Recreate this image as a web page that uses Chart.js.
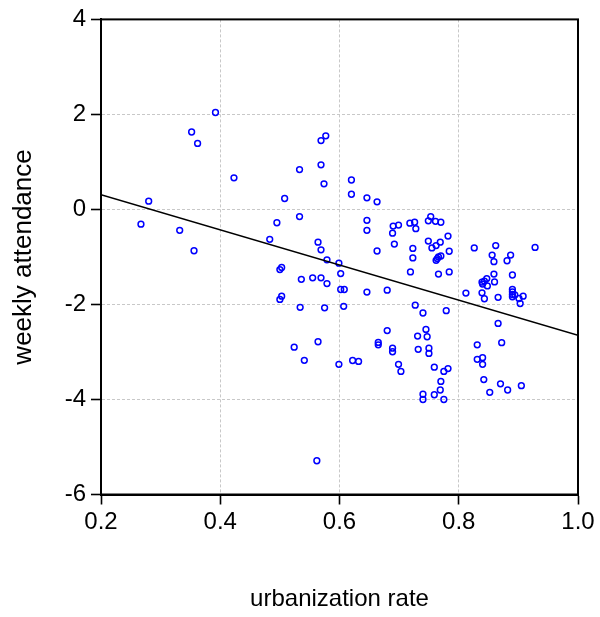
<!DOCTYPE html>
<html>
<head>
<meta charset="utf-8">
<title>weekly attendance vs urbanization rate</title>
<script src="https://cdn.jsdelivr.net/npm/chart.js@4.4.1/dist/chart.umd.min.js"></script>
<style>
  html, body { margin: 0; padding: 0; background: #ffffff; }
  #wrap { width: 600px; height: 617px; }
</style>
</head>
<body>
<div id="wrap"><canvas id="chart" width="600" height="617"></canvas></div>
<script>
// Urbanization rate of each observation
const urbanization = [
  0.392, 0.352, 0.362, 0.423, 0.280, 0.267, 0.332, 0.356, 0.533, 0.508,
  0.495, 0.533, 0.483, 0.564, 0.569, 0.579, 0.569, 0.577, 0.569, 0.574,
  0.620, 0.620, 0.646, 0.663, 0.646, 0.646, 0.690, 0.699, 0.689, 0.692,
  0.663, 0.718, 0.726, 0.728, 0.723, 0.723, 0.749, 0.753, 0.761, 0.770,
  0.782, 0.749, 0.769, 0.755, 0.762, 0.784, 0.826, 0.862, 0.856, 0.887,
  0.928, 0.762, 0.764, 0.766, 0.770, 0.599, 0.602, 0.602, 0.608, 0.607,
  0.599, 0.622, 0.632, 0.646, 0.680, 0.719, 0.766, 0.784, 0.727, 0.740,
  0.779, 0.680, 0.665, 0.665, 0.689, 0.689, 0.731, 0.745, 0.747, 0.732,
  0.750, 0.750, 0.699, 0.703, 0.759, 0.775, 0.782, 0.770, 0.769, 0.759,
  0.775, 0.740, 0.740, 0.812, 0.839, 0.843, 0.866, 0.839, 0.840, 0.843,
  0.847, 0.848, 0.859, 0.860, 0.859, 0.881, 0.890, 0.890, 0.890, 0.890,
  0.890, 0.894, 0.901, 0.908, 0.903, 0.866, 0.872, 0.831, 0.831, 0.840,
  0.840, 0.842, 0.852, 0.870, 0.882, 0.905, 0.500, 0.503, 0.536, 0.555,
  0.569, 0.579, 0.500, 0.503, 0.534, 0.575, 0.524, 0.564, 0.541, 0.562
];

// Weekly attendance of each observation
const attendance = [
   2.04,  1.63,  1.39,  0.665, 0.175, -0.31, -0.44, -0.87,  0.84,  0.23,
  -0.28, -0.15, -0.63, -0.69, -0.85, -1.06,  1.45,  1.55,  0.94,  0.54,
   0.62,  0.32,  0.245, 0.16, -0.23, -0.44, -0.35, -0.33, -0.50, -0.73,
  -0.875, -0.29, -0.27, -0.405, -0.82, -1.02, -0.24, -0.15, -0.25, -0.27,
  -0.56, -0.665, -0.69, -0.81, -0.76, -0.88, -0.81, -0.76, -0.96, -0.96,
  -0.80, -1.07, -1.035, -1.00, -0.98, -1.13, -1.35, -1.685, -1.685, -2.04,
  -3.26, -3.18, -3.20, -1.74, -1.70, -1.315, -1.36, -1.315, -2.015, -2.18,
  -2.13, -2.55, -2.80, -2.85, -2.92, -2.995, -2.665, -2.525, -2.68, -2.945,
  -2.92, -3.03, -3.26, -3.41, -3.32, -3.41, -3.35, -3.62, -3.80, -3.90,
  -4.00, -3.89, -4.00, -1.76, -1.755, -1.88, -1.85, -1.53, -1.57, -1.51,
  -1.455, -1.61, -1.36, -1.525, -1.10, -1.08, -1.38, -1.685, -1.735, -1.79,
  -1.84, -1.80, -1.875, -1.826, -1.98, -2.40, -2.805, -2.85, -3.155, -3.12,
  -3.26, -3.58, -3.85, -3.67, -3.80, -3.71, -1.265, -1.22, -1.47, -1.44,
  -1.44, -1.56, -1.895, -1.826, -2.06, -2.07, -2.90, -2.785, -3.175, -5.29
];

// Fitted regression line, end points at the edges of the x range
const fitX = [0.2, 1.0];
const fitY = [0.31, -2.65];

// Axis ticks
const xTicks = [0.2, 0.4, 0.6, 0.8, 1.0];
const yTicks = [-6, -4, -2, 0, 2, 4];

const FONT = '"Liberation Sans", Arial, Helvetica, sans-serif';

const scatterPoints = urbanization.map((u, i) => ({ x: u, y: attendance[i] }));
const fitPoints = fitX.map((u, i) => ({ x: u, y: fitY[i] }));

// Black frame around the plot area
const framePlugin = {
  id: 'frame',
  afterDraw(chart) {
    const { ctx, chartArea: a } = chart;
    ctx.save();
    ctx.strokeStyle = '#000000';
    ctx.lineWidth = 2;
    ctx.setLineDash([]);
    ctx.strokeRect(a.left, a.top, a.right - a.left, a.bottom - a.top);
    ctx.restore();
  }
};

new Chart(document.getElementById('chart'), {
  type: 'scatter',
  data: {
    datasets: [
      {
        type: 'line',
        data: fitPoints,
        borderColor: '#000000',
        borderWidth: 1.6,
        pointRadius: 0,
        fill: false,
        tension: 0
      },
      {
        type: 'scatter',
        data: scatterPoints,
        pointStyle: 'circle',
        pointRadius: 2.9,
        borderWidth: 1.5,
        borderColor: '#0000ff',
        backgroundColor: 'rgba(0,0,0,0)'
      }
    ]
  },
  options: {
    responsive: false,
    animation: false,
    layout: { padding: { top: 16, right: 22, left: 0, bottom: 0 } },
    plugins: {
      legend: { display: false },
      tooltip: { enabled: false }
    },
    scales: {
      x: {
        type: 'linear',
        min: 0.2,
        max: 1.0,
        afterFit(scale) { scale.height = 122.5; },
        afterBuildTicks(scale) { scale.ticks = xTicks.map(v => ({ value: v })); },
        ticks: {
          color: '#000000',
          font: { family: FONT, size: 24 },
          padding: 3,
          maxRotation: 0,
          callback: v => v.toFixed(1)
        },
        grid: {
          color: '#c8c8c8',
          lineWidth: 1,
          tickLength: 10,
          tickColor: '#000000',
          tickWidth: 1.6
        },
        border: { display: true, color: '#000000', width: 2, dash: [3, 2] },
        title: {
          display: true,
          text: 'urbanization rate',
          color: '#000000',
          font: { family: FONT, size: 24 },
          padding: { top: 0, bottom: 3.5 }
        }
      },
      y: {
        type: 'linear',
        min: -6,
        max: 4,
        afterFit(scale) { scale.width = 101; },
        afterBuildTicks(scale) { scale.ticks = yTicks.map(v => ({ value: v })); },
        ticks: {
          color: '#000000',
          font: { family: FONT, size: 24 },
          padding: 5,
          callback: v => String(v)
        },
        grid: {
          color: '#c8c8c8',
          lineWidth: 1,
          tickLength: 10,
          tickColor: '#000000',
          tickWidth: 1.6
        },
        border: { display: true, color: '#000000', width: 2, dash: [3, 2] },
        title: {
          display: true,
          text: 'weekly attendance',
          color: '#000000',
          font: { family: FONT, size: 26 },
          padding: { top: 8.4, bottom: 0 }
        }
      }
    }
  },
  plugins: [framePlugin]
});
</script>
</body>
</html>
